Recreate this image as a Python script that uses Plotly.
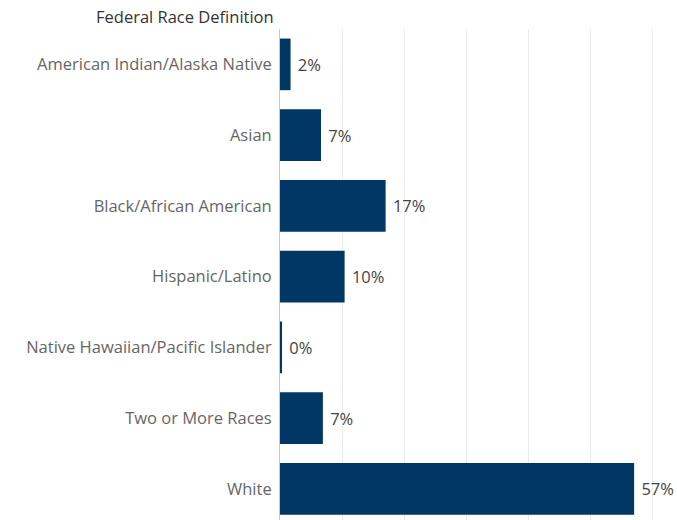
import plotly.graph_objects as go

categories = [
    "American Indian/Alaska Native",
    "Asian",
    "Black/African American",
    "Hispanic/Latino",
    "Native Hawaiian/Pacific Islander",
    "Two or More Races",
    "White",
]
shares = [1.7, 6.6, 17.0, 10.4, 0.3, 6.9, 57.0]

NAVY = "#003764"
FONT = "'Open Sans', Lato, sans-serif"
SIZE = 16.5

fig = go.Figure(
    go.Bar(
        x=shares,
        y=categories,
        orientation="h",
        marker=dict(color=NAVY, line=dict(width=0)),
        width=0.73,
        texttemplate=" %{x:.0f}%",
        textposition="outside",
        cliponaxis=False,
        textfont=dict(family=FONT, size=SIZE, color="#444"),
        hoverinfo="skip",
    )
)

fig.update_layout(
    width=677,
    height=520,
    margin=dict(l=280, r=0, t=29, b=0),
    paper_bgcolor="white",
    plot_bgcolor="white",
    showlegend=False,
    font=dict(family=FONT, size=SIZE, color="#666"),
    annotations=[
        dict(
            text="Federal Race Definition",
            xref="paper",
            yref="paper",
            x=0,
            y=1,
            xanchor="right",
            yanchor="bottom",
            xshift=-4,
            yshift=-1,
            showarrow=False,
            font=dict(family=FONT, size=SIZE, color="#333"),
        )
    ],
)

fig.update_xaxes(
    range=[0, 63.9],
    showticklabels=False,
    ticks="",
    showgrid=True,
    gridcolor="#ebebeb",
    gridwidth=1,
    dtick=10,
    zeroline=False,
    showline=False,
)

fig.update_yaxes(
    categoryorder="array",
    categoryarray=categories,
    range=[6.44, -0.5],
    showline=True,
    linecolor="#c8c8c8",
    linewidth=1,
    ticks="",
    ticklabelstandoff=4,
    tickfont=dict(family=FONT, size=SIZE, color="#666"),
    showgrid=False,
)

fig.write_html("out.html")
